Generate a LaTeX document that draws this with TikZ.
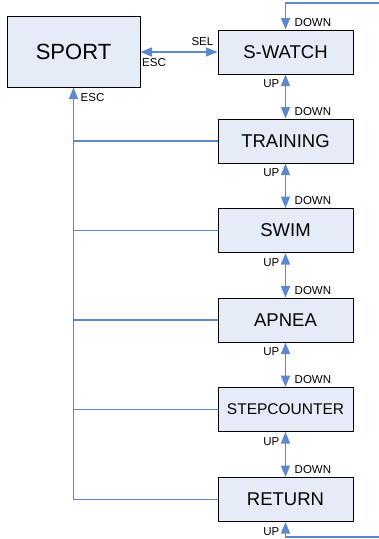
\documentclass[tikz,border=0pt]{standalone}
\usepackage{fontspec}
\setmainfont{Liberation Sans}
\usetikzlibrary{arrows.meta,positioning}

\definecolor{boxfill}{RGB}{230,236,247}
\definecolor{linkblue}{RGB}{92,137,205}

\tikzset{
  menubox/.style={draw=black, line width=1pt, fill=boxfill, minimum width=135pt,
    minimum height=44pt, inner sep=0pt, font=\fontsize{18.5}{20}\selectfont},
  link/.style={draw=linkblue, line width=1.5pt},
  head/.style={Triangle[length=11.5pt,width=9pt]},
  tip/.style={-{Triangle[length=11.5pt,width=9pt]}},
  both/.style={{Triangle[length=11.5pt,width=9pt]}-{Triangle[length=11.5pt,width=9pt]}},
  lbl/.style={font=\fontsize{11.5}{12}\selectfont, inner sep=0pt}
}

\begin{document}
\begin{tikzpicture}[x=1pt, y=-1pt]
\useasboundingbox (0,0) rectangle (379,539);
\clip (0,0) rectangle (379,539);

\node[menubox, minimum width=133pt, minimum height=71pt, font=\fontsize{22}{24}\selectfont] (sport) at (73.5,51.5) {SPORT};
\node[menubox] (swatch) at (285.5,52) {S-WATCH};
\node[menubox] (training) at (285.5,141) {TRAINING};
\node[menubox] (swim) at (285.5,230.5) {SWIM};
\node[menubox] (apnea) at (285.5,320) {APNEA};
\node[menubox, font=\fontsize{15.5}{17}\selectfont] (step) at (285.5,409.5) {STEPCOUNTER};
\node[menubox] (ret) at (285.5,499.5) {RETURN};

% SEL / ESC
\draw[link, both] (sport.east |- swatch.west) -- (swatch.west);
\node[lbl, anchor=south east] (sel) at (213.5,46) {SEL};
\node[lbl, anchor=north west] (esc) at (142,58) {ESC};

% up / down between the entries
\foreach \a/\b in {swatch/training, training/swim, swim/apnea, apnea/step, step/ret} {
  \draw[link, both] (\a.south) -- (\b.north);
  \node[lbl, anchor=north east] at ([xshift=-6pt,yshift=-5pt]\a.south) {UP};
  \node[lbl, anchor=south west] at ([xshift=9pt,yshift=3pt]\b.north) {DOWN};
}

% wrap round
\coordinate (topr) at (380,3);
\coordinate (botr) at (380,537);
\draw[link, tip] (topr) -- (topr -| swatch.north) -- (swatch.north);
\node[lbl, anchor=south west] at ([xshift=9pt,yshift=3pt]swatch.north) {DOWN};
\draw[link, tip] (botr) -- (botr -| ret.south) -- (ret.south);
\node[lbl, anchor=north east] at ([xshift=-6pt,yshift=-5pt]ret.south) {UP};

% back to SPORT
\coordinate (bus) at (sport.south |- ret.west);
\draw[link, tip] (bus) -- (sport.south);
\node[lbl, anchor=north west] at ([xshift=7pt,yshift=-6pt]sport.south) {ESC};
\foreach \n in {training, swim, apnea, step, ret}
  \draw[link, line width=1.3pt] (\n.west) -- (\n.west -| bus);
\end{tikzpicture}
\end{document}
